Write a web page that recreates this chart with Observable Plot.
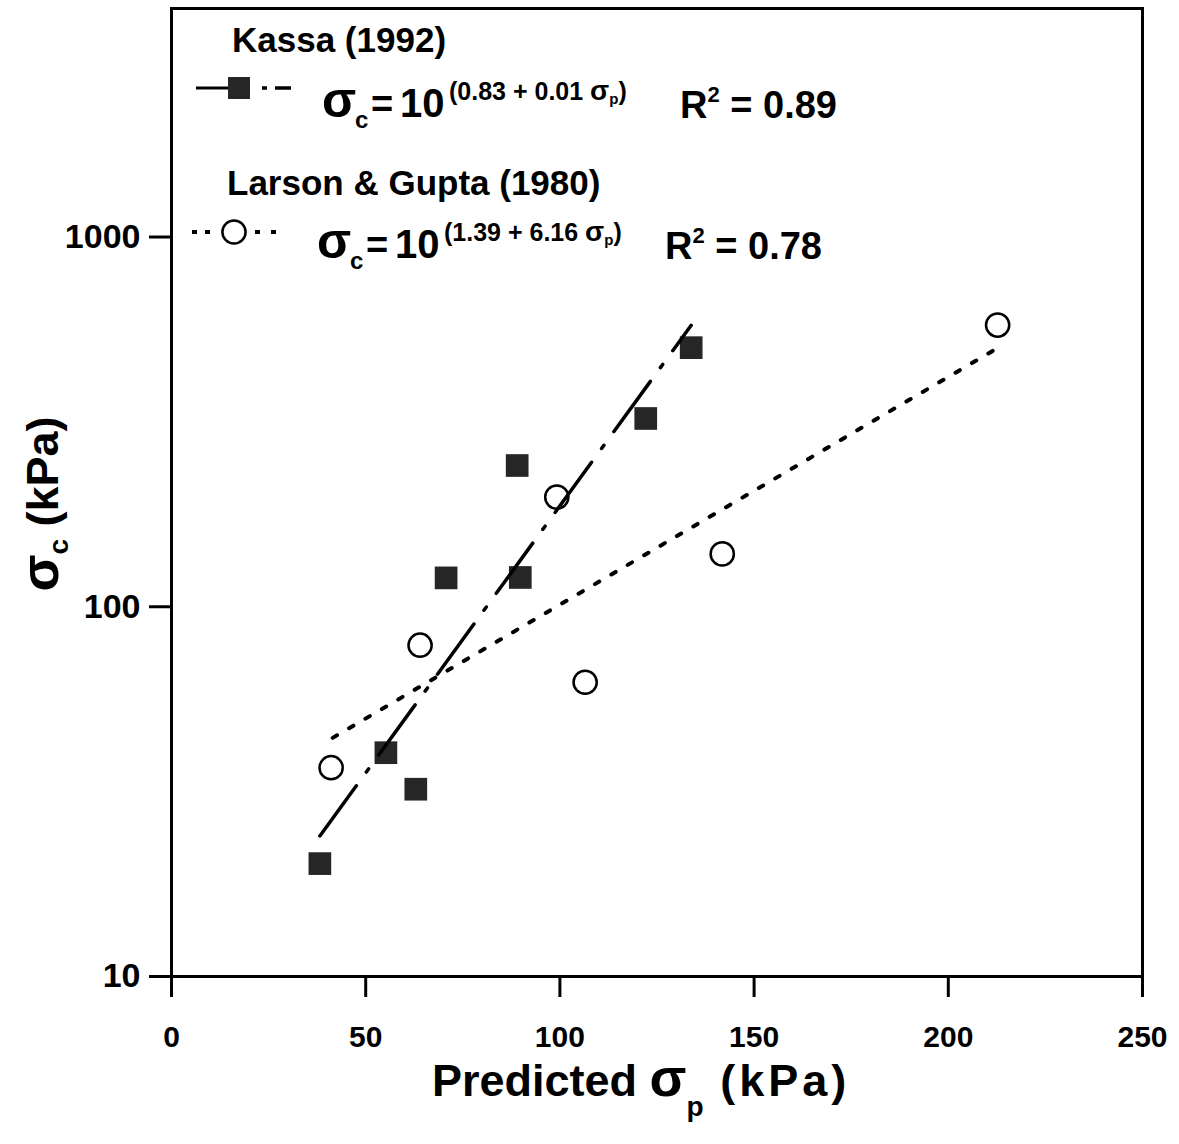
<!DOCTYPE html>
<html>
<head>
<meta charset="utf-8">
<script src="https://cdn.jsdelivr.net/npm/d3@7"></script>
<script src="https://cdn.jsdelivr.net/npm/@observablehq/plot@0.6"></script>
<style>
  html, body { margin: 0; padding: 0; background: #fff; }
  #chart svg { display: block; }
</style>
</head>
<body>
<div id="chart"></div>
<script>
// Measured vs predicted preconsolidation stress (kPa)
const kassaX = [38.2, 55.2, 62.9, 70.7, 89.0, 89.8, 122.1, 133.8];
const kassaY = [20.2, 40.3, 32.1, 119.7, 241, 120, 323, 502];
const larsonX = [41.1, 64.0, 99.2, 106.5, 141.8, 212.7];
const larsonY = [36.7, 78.7, 198, 62.5, 139, 578];

// Fitted regression lines (end points over each data range)
const kassaFitX = [38.2, 133.8];
const kassaFitY = [24.0, 577];
const larsonFitX = [41.5, 212.7];
const larsonFitY = [44.2, 501];

const xTicks = [0, 50, 100, 150, 200, 250];
const yTicks = [10, 100, 1000];

const FONT = "'Liberation Sans', Arial, Helvetica, sans-serif";

const zip = (xs, ys) => xs.map((x, i) => ({x, y: ys[i]}));
const kassa = zip(kassaX, kassaY);
const larson = zip(larsonX, larsonY);
const kassaFit = zip(kassaFitX, kassaFitY);
const larsonFit = zip(larsonFitX, larsonFitY);

const chart = Plot.plot({
  width: 1179,
  height: 1144,
  marginLeft: 171,
  marginRight: 37,
  marginTop: 8,
  marginBottom: 168,
  x: {domain: [0, 250]},
  y: {type: "log", domain: [10, 4150]},
  style: {fontFamily: FONT, fontWeight: "bold", background: "white", color: "black"},
  marks: [
    Plot.axisY({ticks: yTicks, tickFormat: d => String(d), tickSize: 22, tickPadding: 9,
                fontSize: 34, strokeWidth: 3, label: null}),
    Plot.axisX({ticks: xTicks, tickFormat: d => String(d), tickSize: 21, tickPadding: 28,
                fontSize: 30, strokeWidth: 3, label: null}),
    Plot.frame({stroke: "black", strokeWidth: 3}),
    Plot.dot(kassa, {x: "x", y: "y", symbol: "square", r: 12.8, fill: "#262626"}),
    Plot.dot(larson, {x: "x", y: "y", r: 11.6, stroke: "black", strokeWidth: 2.5, fill: "none"}),
    Plot.line(kassaFit, {x: "x", y: "y", stroke: "black", strokeWidth: 3.5,
                         strokeDasharray: "62,17,4,17"}),
    Plot.line(larsonFit, {x: "x", y: "y", stroke: "black", strokeWidth: 4,
                          strokeDasharray: "5,14"})
  ]
});

document.getElementById("chart").appendChild(chart);

// Annotations: legend, regression equations and axis titles
const svg = d3.select(chart);
const g = svg.append("g")
  .attr("font-family", FONT)
  .attr("font-weight", "bold")
  .attr("fill", "black")
  .attr("text-anchor", "start");

function eqLine(gy, o) {
  // sigma_c = 10^(...)   R^2 = ...
  g.append("text").attr("x", o.sx).attr("y", gy).attr("font-size", 50).text("σ");
  g.append("text").attr("x", o.sx + 33).attr("y", gy + 11).attr("font-size", 24).text("c");
  g.append("text").attr("x", o.ex).attr("y", gy).attr("font-size", 38).text("=");
  g.append("text").attr("x", o.tx).attr("y", gy).attr("font-size", 40).text("10");
  const sup = g.append("text").attr("x", o.px).attr("y", gy - 17).attr("font-size", 25);
  sup.append("tspan").text(o.exp + " ");
  sup.append("tspan").attr("font-size", 28).text("σ");
  sup.append("tspan").attr("font-size", 15).attr("dy", 4).text("p");
  sup.append("tspan").attr("dy", -4).text(")");
  const r = g.append("text").attr("x", o.rx).attr("y", gy + 1).attr("font-size", 38);
  r.append("tspan").text("R");
  r.append("tspan").attr("font-size", 22).attr("dy", -16).text("2");
  r.append("tspan").attr("dy", 16).text(" = " + o.r2);
}

// Kassa (1992)
g.append("text").attr("x", 232).attr("y", 52).attr("font-size", 35).text("Kassa (1992)");
g.append("line").attr("x1", 196).attr("x2", 228).attr("y1", 88).attr("y2", 88)
  .attr("stroke", "black").attr("stroke-width", 3);
g.append("rect").attr("x", 228).attr("y", 77).attr("width", 22).attr("height", 22).attr("fill", "#262626");
g.append("line").attr("x1", 262).attr("x2", 291).attr("y1", 88).attr("y2", 88)
  .attr("stroke", "black").attr("stroke-width", 3.5).attr("stroke-dasharray", "5,8,16");
eqLine(117, {sx: 322, ex: 371, tx: 400, px: 449, exp: "(0.83 + 0.01", rx: 680, r2: "0.89"});

// Larson & Gupta (1980)
g.append("text").attr("x", 227).attr("y", 195).attr("font-size", 35).text("Larson & Gupta (1980)");
g.append("line").attr("x1", 192).attr("x2", 214).attr("y1", 232).attr("y2", 232)
  .attr("stroke", "black").attr("stroke-width", 4).attr("stroke-dasharray", "5,8");
g.append("circle").attr("cx", 234).attr("cy", 232).attr("r", 11.6)
  .attr("fill", "none").attr("stroke", "black").attr("stroke-width", 2.5);
g.append("line").attr("x1", 255).attr("x2", 280).attr("y1", 232).attr("y2", 232)
  .attr("stroke", "black").attr("stroke-width", 4).attr("stroke-dasharray", "5,11");
eqLine(258, {sx: 317, ex: 366, tx: 395, px: 444, exp: "(1.39 + 6.16", rx: 665, r2: "0.78"});

// Y axis title
const yt = g.append("text").attr("transform", "translate(58,504) rotate(-90)")
  .attr("text-anchor", "middle").attr("font-size", 45);
yt.append("tspan").attr("font-size", 54).text("σ");
yt.append("tspan").attr("font-size", 28).attr("dy", 10).text("c");
yt.append("tspan").attr("dy", -10).text(" (kPa)");

// X axis title
const xt = g.append("text").attr("x", 432).attr("y", 1096).attr("font-size", 45);
xt.append("tspan").text("Predicted ");
xt.append("tspan").attr("font-size", 54).text("σ");
xt.append("tspan").attr("font-size", 28).attr("dy", 20).text("p");
xt.append("tspan").attr("dy", -20).attr("letter-spacing", 4).text(" (kPa)");
</script>
</body>
</html>
